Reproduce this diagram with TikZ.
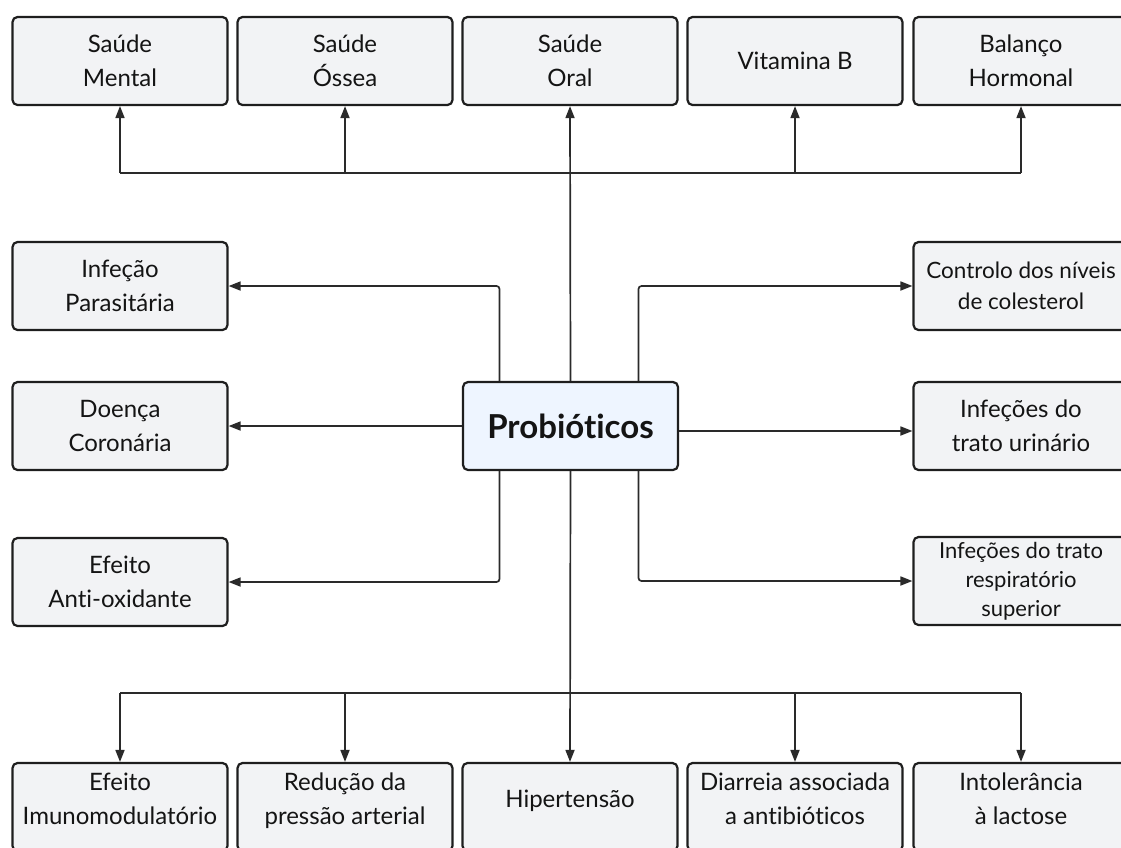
\documentclass[tikz,border=0pt]{standalone}
\usepackage{fontspec}
\setmainfont{Lato}[Ligatures=NoCommon]
\usetikzlibrary{arrows.meta}
\definecolor{boxfill}{HTML}{F2F3F5}
\definecolor{corefill}{HTML}{EEF5FF}
\definecolor{edge}{HTML}{1E1E1E}
\definecolor{wire}{HTML}{2A2A2A}
\definecolor{ink}{HTML}{141414}
\newcommand{\lowpad}{\\[-17pt]\mbox{}}
\tikzset{
  topic/.style={draw=edge, line width=2.2pt, fill=boxfill, rounded corners=5pt,
    minimum width=215pt, minimum height=88pt, inner sep=0pt, align=center,
    text=ink, font=\fontsize{24}{34}\selectfont},
  smalltopic/.style={topic, font=\fontsize{22.5}{31}\selectfont},
  core/.style={topic, fill=corefill, font=\fontsize{33}{38}\selectfont\bfseries},
  wireline/.style={draw=wire, line width=1.7pt},
  arr/.style={wireline, -{Triangle[length=12pt,width=9pt]}},
  elbowarr/.style={arr, rounded corners=3pt}
}
\begin{document}
\begin{tikzpicture}[x=1pt,y=-1pt]
\useasboundingbox (0,0) rectangle (1121,847);
% top row
\node[topic] (t1) at (120,61) {Saúde\\Mental};
\node[topic] (t2) at (345,61) {Saúde\\Óssea};
\node[topic] (t3) at (570,61) {Saúde\\Oral};
\node[topic] (t4) at (795,61) {Vitamina B};
\node[topic] (t5) at (1021,61) {Balanço\\Hormonal};
% left column
\node[topic] (l1) at (120,286) {Infeção\\Parasitária};
\node[topic] (l2) at (120,426) {Doença\\Coronária};
\node[topic] (l3) at (120,582) {Efeito\\Anti-oxidante};
% right column
\node[smalltopic] (r1) at (1021,286) {Controlo dos níveis\\de colesterol};
\node[topic] (r2) at (1021,426) {Infeções do\\trato urinário};
\node[smalltopic, font=\fontsize{22}{29}\selectfont] (r3) at (1021,581) {Infeções do trato\\respiratório\\superior};
% bottom row
\node[topic] (b1) at (120,807) {Efeito\\Imunomodulatório\lowpad};
\node[topic] (b2) at (345,807) {Redução da\\pressão arterial\lowpad};
\node[topic] (b3) at (570,807) {Hipertensão\lowpad};
\node[topic] (b4) at (795,807) {Diarreia associada\\a antibióticos\lowpad};
\node[topic] (b5) at (1021,807) {Intolerância\\à lactose\lowpad};
% centre
\node[core] (c) at (570.5,426) {Probióticos};
% top bus
\coordinate (tb) at (570,173);
\draw[arr] (c.north) -- (t3.south);
\draw[wireline] (t1.south |- tb) -- (t5.south |- tb);
\draw[arr] (t1.south |- tb) -- (t1.south);
\draw[arr] (t2.south |- tb) -- (t2.south);
\draw[arr] (t4.south |- tb) -- (t4.south);
\draw[arr] (t5.south |- tb) -- (t5.south);
% bottom bus
\coordinate (bb) at (570,693);
\draw[arr] (c.south) -- (b3.north);
\draw[wireline] (b1.north |- bb) -- (b5.north |- bb);
\draw[arr] (b1.north |- bb) -- (b1.north);
\draw[arr] (b2.north |- bb) -- (b2.north);
\draw[arr] (b4.north |- bb) -- (b4.north);
\draw[arr] (b5.north |- bb) -- (b5.north);
% sides
\draw[elbowarr] ([xshift=-71pt]c.north) |- (l1.east);
\draw[arr] (c.west) -- (l2.east);
\draw[elbowarr] ([xshift=-71pt]c.south) |- (l3.east);
\draw[elbowarr] ([xshift=68pt]c.north) |- (r1.west);
\draw[arr] ([yshift=-5pt]c.east) -- ([yshift=-5pt]r2.west);
\draw[elbowarr] ([xshift=68pt]c.south) |- (r3.west);
\end{tikzpicture}
\end{document}
